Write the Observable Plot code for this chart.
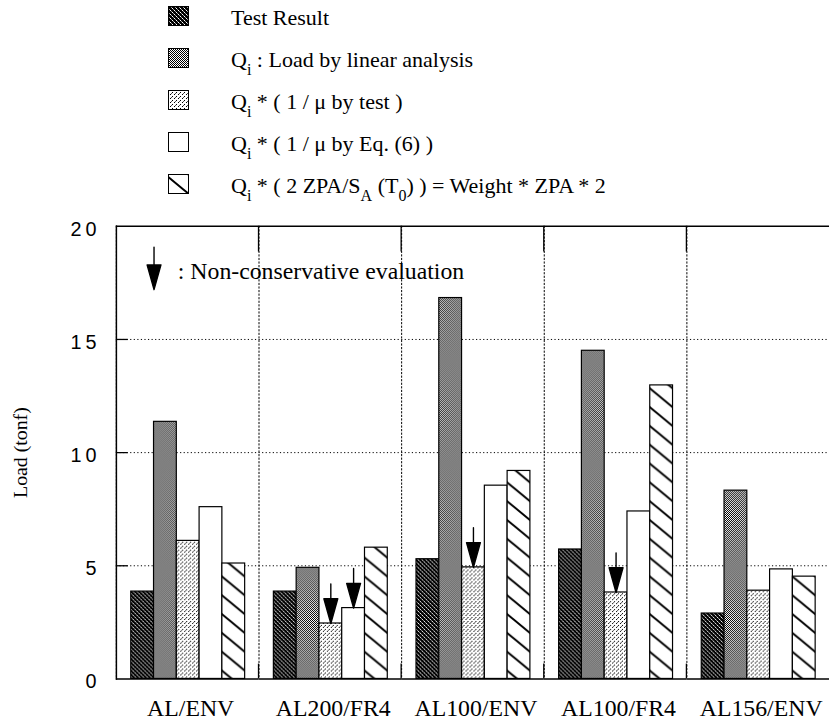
<!DOCTYPE html>
<html><head><meta charset="utf-8">
<script src="https://cdn.jsdelivr.net/npm/d3@7"></script>
<script src="https://cdn.jsdelivr.net/npm/@observablehq/plot@0.6"></script>
<style>
html,body{margin:0;padding:0;overflow:hidden;background:#fff;width:832px;height:727px}
#legend{display:block}
#chart svg{display:block}
#chart g[aria-label="y-axis tick label"] text{letter-spacing:4px}
</style></head><body>
<svg id="legend" width="832" height="205"></svg>
<div id="chart"></div>
<script>
// ---------- data ----------
const groups = ["AL/ENV", "AL200/FR4", "AL100/ENV", "AL100/FR4", "AL156/ENV"];
const seriesKeys = ["test", "linear", "muTest", "muEq6", "zpa"];
const testResult     = [3.86, 3.86, 5.29, 5.72, 2.89];
const linearAnalysis = [11.36, 4.91, 16.83, 14.5, 8.32];
const byMuTest       = [6.10, 2.45, 4.93, 3.82, 3.90];
const byMuEq6        = [7.59, 3.13, 8.54, 7.40, 4.84];
const byZPA          = [5.10, 5.80, 9.19, 12.97, 4.52];
const nonConservative = [
  {group: "AL200/FR4", series: "muTest"},
  {group: "AL200/FR4", series: "muEq6"},
  {group: "AL100/ENV", series: "muTest"},
  {group: "AL100/FR4", series: "muTest"}
];
const yTicks = [0, 5, 10, 15, 20];
const gridValues = [5, 10, 15];
const legendRows = [
  [{t: "Test Result"}],
  [{t: "Q"}, {t: "i", sub: true}, {t: " : Load by linear analysis"}],
  [{t: "Q"}, {t: "i", sub: true}, {t: " * ( 1 / \u03bc by test )"}],
  [{t: "Q"}, {t: "i", sub: true}, {t: " * ( 1 / \u03bc by Eq. (6) )"}],
  [{t: "Q"}, {t: "i", sub: true}, {t: " * ( 2 ZPA/S"}, {t: "A", sub: true}, {t: " (T"}, {t: "0", sub: true}, {t: ") ) = Weight * ZPA * 2"}]
];
const annotationText = ": Non-conservative evaluation";
const yTitle = "Load (tonf)";

const seriesValues = {test: testResult, linear: linearAnalysis, muTest: byMuTest, muEq6: byMuEq6, zpa: byZPA};
const rows = groups.flatMap((g, gi) => seriesKeys.map(s => ({group: g, series: s, value: seriesValues[s][gi]})));
const arrows = nonConservative.map(d => ({...d, value: seriesValues[d.series][groups.indexOf(d.group)]}));
const fills = seriesKeys.map(s => `url(#pat-${s})`);

// ---------- patterns + legend ----------
const leg = d3.select("#legend");
const defs = leg.append("defs");
function pixelPattern(id, size, bg, pixels) {
  const p = defs.append("pattern").attr("id", id).attr("patternUnits", "userSpaceOnUse")
    .attr("width", size).attr("height", size);
  p.append("rect").attr("width", size).attr("height", size).attr("fill", bg);
  for (const [x, y, c] of pixels) p.append("rect").attr("x", x).attr("y", y).attr("width", 1).attr("height", 1).attr("fill", c);
}
pixelPattern("pat-test", 4, "#000", [[0,0,"#fff"],[1,1,"#999"],[2,2,"#fff"],[3,3,"#999"]]);
pixelPattern("pat-linear", 2, "#fff", [[0,0,"#000"],[1,1,"#000"]]);
pixelPattern("pat-muTest", 4, "#fff", [[0,0,"#000"],[2,2,"#000"],[3,1,"#555"]]);
pixelPattern("pat-muEq6", 2, "#fff", []);
{
  const p = defs.append("pattern").attr("id", "pat-zpa").attr("patternUnits", "userSpaceOnUse")
    .attr("width", 23).attr("height", 19);
  p.append("rect").attr("width", 23).attr("height", 19).attr("fill", "#fff");
  p.append("path").attr("d", "M-23,-19L46,38M-23,0L23,38M0,-19L46,19").attr("stroke", "#000").attr("stroke-width", 2);
}
legendRows.forEach((parts, i) => {
  const base = 25 + 42 * i;
  leg.append("rect").attr("x", 168.5).attr("y", base - 18.5).attr("width", 20).attr("height", 19)
    .attr("fill", fills[i]).attr("stroke", "#000").attr("stroke-width", 1);
  const t = leg.append("text").attr("x", 231).attr("y", base)
    .attr("font-family", "'Liberation Serif', serif").attr("font-size", 22).attr("fill", "#000");
  let down = false;
  for (const part of parts) {
    const ts = t.append("tspan").text(part.t);
    if (part.sub && !down) { ts.attr("dy", 8).attr("font-size", 16); down = true; }
    else if (!part.sub && down) { ts.attr("dy", -8); down = false; }
    else if (part.sub) ts.attr("font-size", 16);
  }
});

// ---------- arrow shape (shaft + filled narrow head) ----------
const arrowShape = {
  draw(context, l) {
    const hw = 7, hl = 25;
    context.moveTo(0, 0); context.lineTo(0, -l + hl);
    context.moveTo(0, -l); context.lineTo(-hw, -l + hl); context.lineTo(hw, -l + hl); context.closePath();
  }
};

const dotted = "1.2,2.4";
const chart = Plot.plot({
  width: 840, height: 522,
  marginTop: 21, marginBottom: 44, marginLeft: 117, marginRight: 3,
  style: {fontFamily: "'Liberation Serif', serif", background: "white", color: "black", overflow: "visible"},
  fx: {domain: groups, padding: 0, axis: null, label: null},
  x: {domain: seriesKeys, paddingInner: 0, paddingOuter: 0.63, axis: null},
  y: {domain: [0, 20], axis: null, label: null},
  color: {type: "ordinal", domain: seriesKeys, range: fills},
  marks: [
    Plot.ruleY(gridValues, {stroke: "#000", strokeWidth: 1, strokeDasharray: dotted}),
    Plot.frame({anchor: "left", stroke: "#000", strokeWidth: 1, strokeDasharray: dotted}),
    Plot.barY(rows, {fx: "group", x: "series", y: "value", fill: "series", stroke: "#000", strokeWidth: 1.2}),
    Plot.vector(arrows, {fx: "group", x: "series", y: "value", length: 40, rotate: 180, anchor: "end",
      shape: arrowShape, stroke: "#000", fill: "#000", strokeWidth: 1.4}),
    Plot.ruleY([0, 20], {stroke: "#000", strokeWidth: 1.5}),
    Plot.frame({facet: "super", anchor: "left", stroke: "#000", strokeWidth: 1.5}),
    Plot.axisY(gridValues, {tickSize: -12, text: null, strokeWidth: 1.3, label: null}),
    Plot.axisY(yTicks, {tickSize: 0, tickPadding: 16, dy: 3, fontFamily: "'Liberation Sans', sans-serif", fontSize: 20, label: null}),
    Plot.axisFx({anchor: "bottom", tickSize: 0, tickPadding: 20, dx: 3, fontSize: 24, label: null}),
    Plot.text([yTitle], {facet: "super", frameAnchor: "left", textAnchor: "middle", lineAnchor: "middle",
      rotate: -90, dx: -97, fontSize: 20}),
    Plot.vector([0], {facet: "super", frameAnchor: "top-left", dx: 38, dy: 64, length: 43, rotate: 180, anchor: "end",
      shape: arrowShape, stroke: "#000", fill: "#000", strokeWidth: 1.4}),
    Plot.text([annotationText], {facet: "super", frameAnchor: "top-left", dx: 62, dy: 46,
      textAnchor: "start", lineAnchor: "middle", fontSize: 24})
  ]
});
document.getElementById("chart").appendChild(chart);

// solid boundary ticks at the top and bottom of each group divider
const fxS = chart.scale("fx"), yS = chart.scale("y");
const g = d3.select(chart).append("g").attr("stroke", "#000").attr("stroke-width", 1.3);
groups.slice(1).forEach(grp => {
  const x = fxS.apply(grp);
  g.append("line").attr("x1", x).attr("x2", x).attr("y1", yS.apply(20)).attr("y2", yS.apply(20) + 26);
  g.append("line").attr("x1", x).attr("x2", x).attr("y1", yS.apply(0) - 15).attr("y2", yS.apply(0));
});
</script>
</body></html>
